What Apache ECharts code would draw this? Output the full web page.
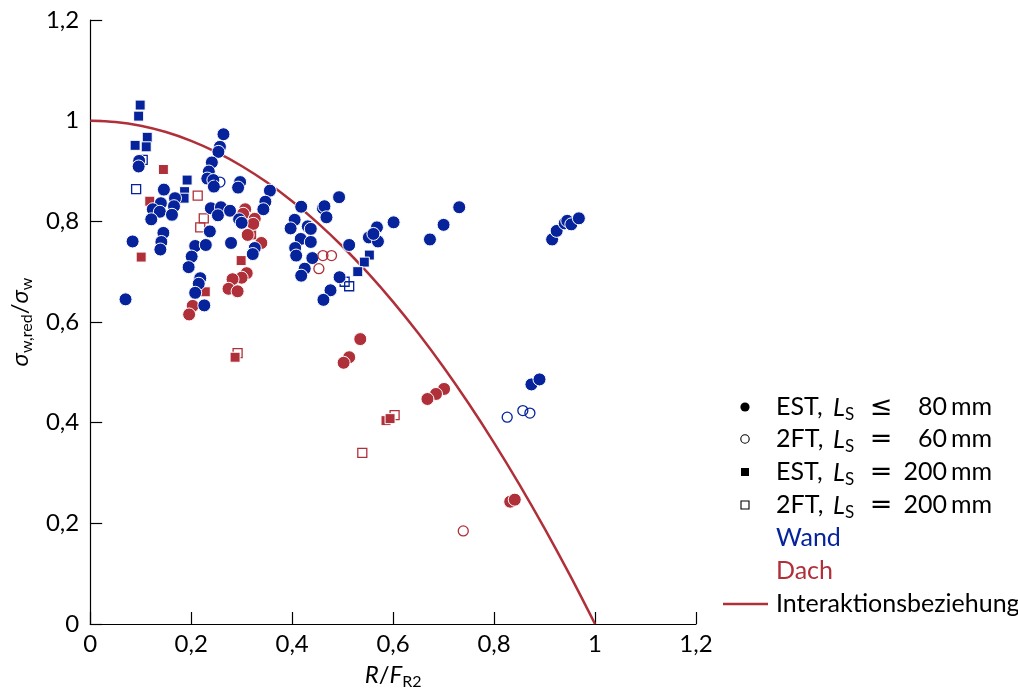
<!DOCTYPE html>
<html>
<head>
<meta charset="utf-8">
<title>Interaktion</title>
<script src="https://cdn.jsdelivr.net/npm/echarts/dist/echarts.min.js"></script>
<style>
  html, body { margin: 0; padding: 0; background: #fff; }
  #chart { width: 1018px; height: 695px; }
</style>
</head>
<body>
<div id="chart"></div>
<script>
// Measured points: [R/F_R2, sigma_w,red/sigma_w]
const estWand = [
  [0.070, 0.645], [0.084, 0.760], [0.097, 0.920], [0.096, 0.909], [0.146, 0.863],
  [0.168, 0.846], [0.140, 0.836], [0.124, 0.824], [0.166, 0.830], [0.138, 0.819],
  [0.162, 0.813], [0.121, 0.804], [0.145, 0.777], [0.141, 0.759], [0.139, 0.744],
  [0.208, 0.751], [0.229, 0.753], [0.201, 0.730], [0.195, 0.709], [0.218, 0.687],
  [0.215, 0.676], [0.208, 0.658], [0.226, 0.633], [0.237, 0.780], [0.239, 0.826],
  [0.264, 0.973], [0.257, 0.948], [0.254, 0.938], [0.241, 0.917], [0.235, 0.899],
  [0.232, 0.885], [0.244, 0.882], [0.245, 0.869], [0.297, 0.878], [0.293, 0.867],
  [0.356, 0.861], [0.347, 0.839], [0.343, 0.824], [0.259, 0.828], [0.253, 0.812],
  [0.277, 0.821], [0.295, 0.804], [0.300, 0.797], [0.279, 0.757], [0.326, 0.747],
  [0.322, 0.735], [0.418, 0.829], [0.405, 0.803], [0.397, 0.786], [0.431, 0.790],
  [0.437, 0.785], [0.417, 0.765], [0.437, 0.759], [0.406, 0.747], [0.408, 0.732],
  [0.440, 0.727], [0.425, 0.706], [0.418, 0.692], [0.493, 0.848], [0.461, 0.826],
  [0.464, 0.830], [0.468, 0.808], [0.494, 0.689], [0.476, 0.663], [0.462, 0.644],
  [0.513, 0.753], [0.568, 0.788], [0.552, 0.768], [0.570, 0.760], [0.561, 0.775],
  [0.601, 0.798], [0.673, 0.764], [0.700, 0.793], [0.731, 0.828], [0.915, 0.764],
  [0.924, 0.781], [0.940, 0.796], [0.945, 0.801], [0.953, 0.794], [0.968, 0.806],
  [0.874, 0.476], [0.890, 0.486]
];
const ft60Wand = [
  [0.257, 0.878], [0.826, 0.411], [0.857, 0.424], [0.871, 0.419]
];
const est200Wand = [
  [0.099, 1.031], [0.096, 1.009], [0.113, 0.967], [0.089, 0.951], [0.111, 0.948],
  [0.192, 0.882], [0.187, 0.859], [0.186, 0.846], [0.553, 0.733], [0.543, 0.719],
  [0.530, 0.700]
];
const ft200Wand = [
  [0.091, 0.864], [0.104, 0.922], [0.504, 0.680], [0.513, 0.671]
];
const estDach = [
  [0.203, 0.632], [0.196, 0.615], [0.307, 0.824], [0.303, 0.815], [0.326, 0.805],
  [0.323, 0.795], [0.312, 0.773], [0.339, 0.757], [0.310, 0.697], [0.300, 0.688],
  [0.282, 0.685], [0.274, 0.666], [0.292, 0.661], [0.535, 0.566], [0.513, 0.530],
  [0.502, 0.519], [0.701, 0.467], [0.685, 0.457], [0.668, 0.447], [0.832, 0.243],
  [0.841, 0.247]
];
const ft60Dach = [
  [0.461, 0.732], [0.478, 0.732], [0.453, 0.706], [0.739, 0.185]
];
const est200Dach = [
  [0.145, 0.903], [0.118, 0.840], [0.101, 0.729], [0.228, 0.660], [0.299, 0.722],
  [0.287, 0.530], [0.586, 0.404], [0.594, 0.408], [0.320, 0.773]
];
const ft200Dach = [
  [0.213, 0.851], [0.225, 0.806], [0.218, 0.788], [0.292, 0.538], [0.603, 0.415],
  [0.539, 0.340]
];

// Interaction curve
const curveR = [0, 0.05, 0.1, 0.15, 0.2, 0.25, 0.3, 0.35, 0.4, 0.45, 0.5,
                0.55, 0.6, 0.65, 0.7, 0.75, 0.8, 0.85, 0.9, 0.95, 1.0];
const curveS = [1.0, 0.9975, 0.99, 0.9775, 0.96, 0.9375, 0.91, 0.8775, 0.84, 0.7975, 0.75,
                0.6975, 0.64, 0.5775, 0.51, 0.4375, 0.36, 0.2775, 0.19, 0.0975, 0.0];

const tickValues = [0, 0.2, 0.4, 0.6, 0.8, 1.0, 1.2];
const tickLabels = ['0', '0,2', '0,4', '0,6', '0,8', '1', '1,2'];

const legendRows = [
  { text: 'EST,', rel: '≤', len: '80', unit: 'mm' },
  { text: '2FT,', rel: '=', len: '60', unit: 'mm' },
  { text: 'EST,', rel: '=', len: '200', unit: 'mm' },
  { text: '2FT,', rel: '=', len: '200', unit: 'mm' }
];
const groupLabels = ['Wand', 'Dach'];
const curveLabel = 'Interaktionsbeziehung';

const BLUE = '#06239c';
const RED = '#b0303a';
const FONT = 'Lato, "DejaVu Sans", sans-serif';
const MATH = '"DejaVu Sans", sans-serif';

function tickFmt(v) {
  const i = tickValues.findIndex(t => Math.abs(t - v) < 1e-6);
  return i >= 0 ? tickLabels[i] : '';
}

function filled(name, data, symbol, color, size) {
  return {
    name, type: 'scatter', data, symbol, symbolSize: size, z: 3,
    itemStyle: { color, borderColor: '#fff', borderWidth: 1, opacity: 1 },
    emphasis: { disabled: true }
  };
}
function hollow(name, data, symbol, color, size) {
  return {
    name, type: 'scatter', data, symbol, symbolSize: size, z: 3,
    itemStyle: { color: 'rgba(255,255,255,0)', borderColor: color, borderWidth: 1.3, opacity: 1 },
    emphasis: { disabled: true }
  };
}

const subRich = {
  i: { fontFamily: FONT, fontStyle: 'italic', fontSize: 24, lineHeight: 30, color: '#000' },
  t: { fontFamily: FONT, fontSize: 24, lineHeight: 30, color: '#000' },
  s: { fontFamily: FONT, fontSize: 16, lineHeight: 16, verticalAlign: 'bottom', color: '#000' }
};

const legendRich = {
  i: { fontFamily: FONT, fontStyle: 'italic', fontSize: 25, lineHeight: 30, color: '#000' },
  s: { fontFamily: FONT, fontSize: 17, lineHeight: 17, verticalAlign: 'bottom', color: '#000' }
};

// legend drawn as graphic elements
const rowY = [407, 439, 472, 505];
const markerX = 745;
const graphics = [];
legendRows.forEach((row, k) => {
  const y = rowY[k];
  if (k === 0) graphics.push({ type: 'circle', shape: { cx: markerX, cy: y, r: 4.6 }, style: { fill: '#000' } });
  if (k === 1) graphics.push({ type: 'circle', shape: { cx: markerX, cy: y, r: 4.2 }, style: { fill: 'none', stroke: '#000', lineWidth: 1.1 } });
  if (k === 2) graphics.push({ type: 'rect', shape: { x: markerX - 4, y: y - 4, width: 8, height: 8 }, style: { fill: '#000' } });
  if (k === 3) graphics.push({ type: 'rect', shape: { x: markerX - 4, y: y - 4, width: 8, height: 8 }, style: { fill: 'none', stroke: '#000', lineWidth: 1.1 } });
  const base = { fill: '#000', fontFamily: FONT, fontSize: 25, verticalAlign: 'middle' };
  graphics.push({ type: 'text', x: 776, y, style: Object.assign({ text: row.text, align: 'left' }, base) });
  graphics.push({ type: 'text', x: 833, y: y + 1, style: { text: '{i|L}{s|S}', rich: legendRich, align: 'left', verticalAlign: 'middle' } });
  graphics.push({ type: 'text', x: 881, y: y + 1, style: { text: row.rel, align: 'center', verticalAlign: 'middle', fill: '#000', fontFamily: MATH, fontSize: 27 } });
  graphics.push({ type: 'text', x: 947, y, style: Object.assign({ text: row.len, align: 'right' }, base) });
  graphics.push({ type: 'text', x: 951, y, style: Object.assign({ text: row.unit, align: 'left' }, base) });
});
graphics.push({ type: 'text', x: 776, y: 538, style: { text: groupLabels[0], fill: BLUE, fontFamily: FONT, fontSize: 25, verticalAlign: 'middle' } });
graphics.push({ type: 'text', x: 776, y: 571, style: { text: groupLabels[1], fill: RED, fontFamily: FONT, fontSize: 25, verticalAlign: 'middle' } });
graphics.push({ type: 'line', shape: { x1: 723, y1: 604, x2: 768, y2: 604 }, style: { stroke: RED, lineWidth: 2.5 } });
graphics.push({ type: 'text', x: 776, y: 604, style: { text: curveLabel, fill: '#000', fontFamily: FONT, fontSize: 25, verticalAlign: 'middle' } });

const axisCommon = {
  type: 'value', min: 0, max: 1.2, interval: 0.2,
  axisLine: { show: true, onZero: false, lineStyle: { color: '#000', width: 1.2 } },
  axisTick: { show: true, inside: true, length: 12, lineStyle: { color: '#000', width: 1.2 } },
  splitLine: { show: false },
  nameLocation: 'middle'
};

const chart = echarts.init(document.getElementById('chart'), null, { renderer: 'canvas' });
chart.setOption({
  animation: false,
  backgroundColor: '#fff',
  grid: { left: 88, right: 322, top: 20, bottom: 68, containLabel: false },
  xAxis: Object.assign({}, axisCommon, {
    axisLabel: { color: '#000', fontSize: 24, fontFamily: FONT, margin: 8, formatter: tickFmt },
    name: '{i|R}{t|/}{i|F}{s|R2}',
    nameGap: 36,
    nameTextStyle: { rich: subRich }
  }),
  yAxis: Object.assign({}, axisCommon, {
    axisLabel: { color: '#000', fontSize: 24, fontFamily: FONT, margin: 11, formatter: tickFmt },
    name: '{i|σ}{s|w,red}{t|/}{i|σ}{s|w}',
    nameRotate: 90,
    nameGap: 54,
    nameTextStyle: { rich: subRich }
  }),
  series: [
    {
      name: curveLabel, type: 'line', z: 2, symbol: 'none', smooth: 0.3,
      data: curveR.map((r, i) => [r, curveS[i]]),
      lineStyle: { color: RED, width: 2.5 },
      emphasis: { disabled: true }
    },
    hollow('2FT 200 Wand', ft200Wand, 'rect', BLUE, 9),
    hollow('2FT 200 Dach', ft200Dach, 'rect', RED, 9),
    filled('EST 200 Dach', est200Dach, 'rect', RED, 10),
    filled('EST 200 Wand', est200Wand, 'rect', BLUE, 10),
    filled('EST Dach', estDach, 'circle', RED, 13),
    filled('EST Wand', estWand, 'circle', BLUE, 13),
    hollow('2FT 60 Wand', ft60Wand, 'circle', BLUE, 10),
    hollow('2FT 60 Dach', ft60Dach, 'circle', RED, 10)
  ],
  graphic: graphics
});
</script>
</body>
</html>
